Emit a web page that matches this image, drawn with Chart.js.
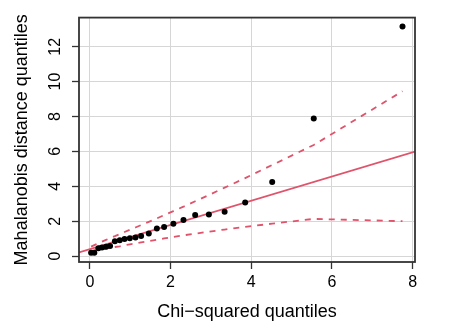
<!DOCTYPE html>
<html>
<head>
<meta charset="utf-8">
<script src="https://cdn.jsdelivr.net/npm/chart.js@4.4.1/dist/chart.umd.min.js"></script>
<style>
  body { margin: 0; background: #fff; }
  #qqChart { display: block; }
</style>
</head>
<body>
<canvas id="qqChart" width="455" height="328"></canvas>
<script>
// values
const chiQuantiles = [0.03, 0.11, 0.21, 0.30, 0.40, 0.50, 0.62, 0.74, 0.86, 0.99, 1.13, 1.27,
                      1.46, 1.66, 1.84, 2.07, 2.32, 2.61, 2.95, 3.34, 3.85, 4.52, 5.55, 7.75];
const mahalQuantiles = [0.19, 0.19, 0.45, 0.49, 0.54, 0.58, 0.85, 0.90, 0.98, 1.02, 1.07, 1.15,
                        1.30, 1.58, 1.66, 1.85, 2.07, 2.35, 2.39, 2.54, 3.07, 4.25, 7.89, 13.16];
const envelopeUpper = [0.54, 0.63, 0.73, 0.83, 0.93, 1.03, 1.14, 1.26, 1.38, 1.51, 1.64, 1.78,
                       1.96, 2.16, 2.35, 2.58, 2.83, 3.14, 3.50, 3.92, 4.47, 5.22, 6.37, 9.45];
const envelopeLower = [0.30, 0.33, 0.37, 0.39, 0.43, 0.47, 0.52, 0.56, 0.62, 0.67, 0.72, 0.78,
                       0.86, 0.94, 1.01, 1.10, 1.19, 1.28, 1.40, 1.52, 1.67, 1.86, 2.13, 2.00];
const lineIntercept = 0.40;
const lineSlope = 0.694;

const xTicks = [0, 2, 4, 6, 8];
const yTicks = [0, 2, 4, 6, 8, 10, 12];
const xRange = [-0.27, 8.06];
const yRange = [-0.34, 13.67];

const lineColor = '#DF536B';
const fontFamily = '"Liberation Sans", Arial, Helvetica, sans-serif';

function toPoints(xs, ys) {
    return xs.map((x, i) => ({ x: x, y: ys[i] }));
}

// R style box around the plot region
const boxPlugin = {
    id: 'plotBox',
    afterDraw(chart) {
        const { ctx, chartArea } = chart;
        ctx.save();
        ctx.strokeStyle = '#333333';
        ctx.lineWidth = 1.8;
        ctx.strokeRect(chartArea.left, chartArea.top,
                       chartArea.right - chartArea.left, chartArea.bottom - chartArea.top);
        ctx.restore();
    }
};

const ctx = document.getElementById('qqChart').getContext('2d');
new Chart(ctx, {
    type: 'scatter',
    data: {
        datasets: [
            {
                label: 'points',
                data: toPoints(chiQuantiles, mahalQuantiles),
                backgroundColor: '#000000',
                borderWidth: 0,
                pointRadius: 3,
                showLine: false,
                order: 0
            },
            {
                label: 'fit',
                data: toPoints(xRange, xRange.map(x => lineIntercept + lineSlope * x)),
                borderColor: lineColor,
                borderWidth: 1.8,
                pointRadius: 0,
                showLine: true,
                order: 1
            },
            {
                label: 'upper',
                data: toPoints(chiQuantiles, envelopeUpper),
                borderColor: lineColor,
                borderWidth: 1.8,
                borderDash: [6, 6],
                pointRadius: 0,
                showLine: true,
                order: 1
            },
            {
                label: 'lower',
                data: toPoints(chiQuantiles, envelopeLower),
                borderColor: lineColor,
                borderWidth: 1.8,
                borderDash: [6, 6],
                pointRadius: 0,
                showLine: true,
                order: 1
            }
        ]
    },
    options: {
        responsive: false,
        animation: false,
        layout: { padding: { top: 14, right: 40, left: 0, bottom: 0 } },
        plugins: {
            legend: { display: false },
            tooltip: { enabled: false }
        },
        scales: {
            x: {
                type: 'linear',
                min: xRange[0],
                max: xRange[1],
                afterBuildTicks: axis => { axis.ticks = xTicks.map(v => ({ value: v })); },
                afterFit: axis => { axis.height = 66; },
                border: { display: false },
                grid: {
                    color: '#D6D6D6',
                    lineWidth: 1,
                    tickColor: '#333333',
                    tickWidth: 1.3,
                    tickLength: 7
                },
                ticks: {
                    color: '#000000',
                    padding: 4,
                    font: { family: fontFamily, size: 16 }
                },
                title: {
                    display: true,
                    text: 'Chi−squared quantiles',
                    color: '#000000',
                    padding: { top: 0, bottom: 5 },
                    font: { family: fontFamily, size: 18 }
                }
            },
            y: {
                type: 'linear',
                min: yRange[0],
                max: yRange[1],
                afterBuildTicks: axis => { axis.ticks = yTicks.map(v => ({ value: v })); },
                afterFit: axis => { axis.width = 79; },
                border: { display: false },
                grid: {
                    color: '#D6D6D6',
                    lineWidth: 1,
                    tickColor: '#333333',
                    tickWidth: 1.3,
                    tickLength: 7
                },
                ticks: {
                    color: '#000000',
                    padding: 8,
                    minRotation: 90,
                    maxRotation: 90,
                    crossAlign: 'center',
                    font: { family: fontFamily, size: 16 }
                },
                title: {
                    display: true,
                    text: 'Mahalanobis distance quantiles',
                    color: '#000000',
                    padding: { top: 11, bottom: 0 },
                    font: { family: fontFamily, size: 18 }
                }
            }
        }
    },
    plugins: [boxPlugin]
});
</script>
</body>
</html>
